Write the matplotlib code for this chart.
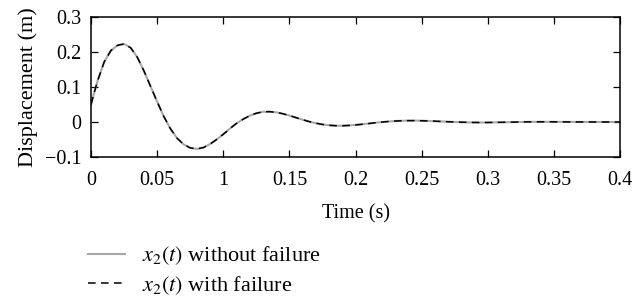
import matplotlib
matplotlib.use("Agg")
import matplotlib.pyplot as plt

# time (s) and displacement x2(t) (m)
time_s = [0.0, 0.0025, 0.005, 0.010, 0.015, 0.020, 0.025, 0.030, 0.035, 0.040,
          0.045, 0.050, 0.055, 0.060, 0.065, 0.070, 0.075, 0.080, 0.085, 0.090,
          0.095, 0.100, 0.105, 0.110, 0.115, 0.120, 0.125, 0.130, 0.135, 0.140,
          0.145, 0.150, 0.155, 0.160, 0.165, 0.170, 0.175, 0.180, 0.185, 0.190,
          0.195, 0.200, 0.205, 0.210, 0.215, 0.220, 0.225, 0.230, 0.235, 0.240,
          0.245, 0.250, 0.255, 0.260, 0.265, 0.270, 0.275, 0.280, 0.285, 0.290,
          0.295, 0.300, 0.310, 0.320, 0.330, 0.340, 0.350, 0.360, 0.380, 0.400]
x2_no_failure = [0.050, 0.085, 0.118, 0.172, 0.204, 0.219, 0.223, 0.212, 0.185, 0.146,
                 0.102, 0.058, 0.016, -0.019, -0.046, -0.064, -0.074, -0.077, -0.073, -0.063,
                 -0.050, -0.035, -0.019, -0.004, 0.008, 0.018, 0.025, 0.029, 0.0295, 0.0276,
                 0.0236, 0.0184, 0.0125, 0.0066, 0.0011, -0.0035, -0.0070, -0.0094, -0.0106, -0.0107,
                 -0.0099, -0.0084, -0.0065, -0.0044, -0.0022, -0.0002, 0.0014, 0.0027, 0.0035, 0.0039,
                 0.0039, 0.0036, 0.0030, 0.0023, 0.0015, 0.0007, 0.0, -0.0006, -0.0011, -0.0014,
                 -0.0015, -0.0014, -0.0009, -0.0003, 0.0003, 0.0005, 0.0004, 0.0002, 0.0, 0.0]
x2_with_failure = list(x2_no_failure)

xticks = [0, 0.05, 0.1, 0.15, 0.2, 0.25, 0.3, 0.35, 0.4]
xtick_labels = ["0", "0.05", "1", "0.15", "0.2", "0.25", "0.3", "0.35", "0.4"]
yticks = [-0.1, 0, 0.1, 0.2, 0.3]
ytick_labels = ["\u22120.1", "0", "0.1", "0.2", "0.3"]

plt.rcParams["font.family"] = "Liberation Serif"
plt.rcParams["mathtext.fontset"] = "stix"
plt.rcParams["font.size"] = 14.5

fig = plt.figure(figsize=(6.33, 2.97), dpi=100)
ax = fig.add_axes([0.1438, 0.4714, 0.8357, 0.4714])

ax.plot(time_s, x2_no_failure, color="#a8a8a8", lw=1.5,
        label=r"$x_2(t)$ without failure")
ax.plot(time_s, x2_with_failure, color="black", lw=1.1, ls=(0, (5, 3.5)),
        label=r"$x_2(t)$ with failure")

ax.set_xlim(0, 0.4)
ax.set_ylim(-0.1, 0.3)
ax.set_xticks(xticks)
ax.set_xticklabels(xtick_labels)
ax.set_yticks(yticks)
ax.set_yticklabels(ytick_labels)
ax.tick_params(direction="in", top=True, right=True, length=5, width=0.9)
ax.tick_params(axis="x", pad=10)
ax.tick_params(axis="y", pad=7)
for s in ax.spines.values():
    s.set_linewidth(1.1)

ax.set_xlabel("Time (s)", labelpad=10)
ax.set_ylabel("Displacement (m)", fontsize=16, labelpad=5)

fig.legend(loc="center left", bbox_to_anchor=(0.139, 0.089), frameon=False,
           borderpad=0, borderaxespad=0, handlelength=1.67, handletextpad=0.77,
           labelspacing=0.3, fontsize=16)

fig.savefig("out.png", dpi=100)
